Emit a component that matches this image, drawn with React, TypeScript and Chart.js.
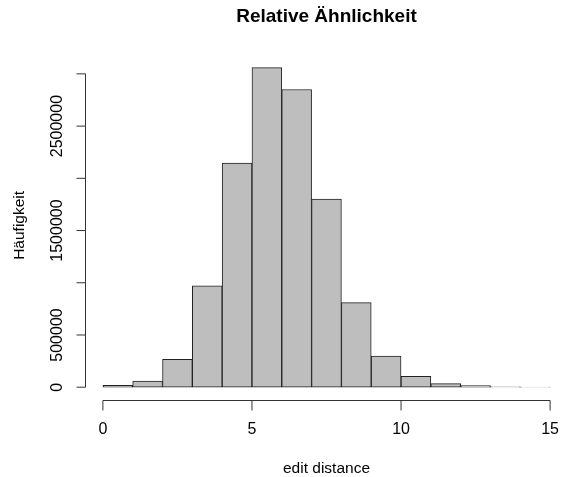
import React, { useEffect, useRef } from "react";
import { Chart, registerables } from "chart.js";

Chart.register(...registerables);

const binStarts = [0, 1, 2, 3, 4, 5, 6, 7, 8, 9, 10, 11, 12, 13, 14];
const counts = [18000, 58000, 268000, 970000, 2145000, 3060000, 2850000, 1800000, 810000, 297000, 105000, 35000, 15000, 3000, 800];
const xTicks = [0, 5, 10, 15];
const yTicks = [0, 500000, 1000000, 1500000, 2000000, 2500000, 3000000];
const titleText = "Relative Ähnlichkeit";
const xTitle = "edit distance";
const yTitle = "Häufigkeit";

const FONT = '"Liberation Sans", Arial, Helvetica, sans-serif';
const AXIS_COLOR = "#333";

const rAxesPlugin = {
  id: "rAxes",
  afterDraw(chart: any) {
    const ctx = chart.ctx;
    const xs = chart.scales.x;
    const ys = chart.scales.y;
    const area = chart.chartArea;
    ctx.save();
    ctx.strokeStyle = AXIS_COLOR;
    ctx.fillStyle = "#000";
    ctx.lineWidth = 1;

    // x axis
    const xAxisY = Math.round(area.bottom) + 0.5;
    const x0 = xs.getPixelForValue(xTicks[0]);
    const x1 = xs.getPixelForValue(xTicks[xTicks.length - 1]);
    ctx.beginPath();
    ctx.moveTo(x0, xAxisY);
    ctx.lineTo(x1, xAxisY);
    xTicks.forEach((t) => {
      const px = xs.getPixelForValue(t);
      ctx.moveTo(px, xAxisY);
      ctx.lineTo(px, xAxisY + 10);
    });
    ctx.stroke();
    ctx.font = `16px ${FONT}`;
    ctx.textAlign = "center";
    ctx.textBaseline = "alphabetic";
    xTicks.forEach((t) => {
      ctx.fillText(String(t), xs.getPixelForValue(t), 434);
    });
    ctx.font = `15.5px ${FONT}`;
    ctx.fillText(xTitle, (area.left + xs.getPixelForValue(xs.max)) / 2, 473);

    // y axis
    const yAxisX = Math.round(area.left) + 0.5;
    const yb = ys.getPixelForValue(yTicks[0]);
    const yt = ys.getPixelForValue(yTicks[yTicks.length - 1]);
    ctx.beginPath();
    ctx.moveTo(yAxisX, yb);
    ctx.lineTo(yAxisX, yt);
    yTicks.forEach((t) => {
      const py = ys.getPixelForValue(t);
      ctx.moveTo(yAxisX, py);
      ctx.lineTo(yAxisX - 9, py);
    });
    ctx.stroke();

    ctx.font = `16px ${FONT}`;
    let lastTop = Infinity;
    yTicks.forEach((t) => {
      const py = ys.getPixelForValue(t);
      const label = String(t);
      const w = ctx.measureText(label).width;
      const lo = py + w / 2;
      const hi = py - w / 2;
      if (lo < lastTop - 6) {
        ctx.save();
        ctx.translate(62, py);
        ctx.rotate(-Math.PI / 2);
        ctx.textAlign = "center";
        ctx.fillText(label, 0, 0);
        ctx.restore();
        lastTop = hi;
      }
    });

    ctx.font = `15.5px ${FONT}`;
    ctx.save();
    ctx.translate(24, (area.top + area.bottom) / 2 - 2);
    ctx.rotate(-Math.PI / 2);
    ctx.textAlign = "center";
    ctx.fillText(yTitle, 0, 0);
    ctx.restore();

    ctx.restore();
  },
};

export default function App() {
  const canvasRef = useRef<HTMLCanvasElement | null>(null);

  useEffect(() => {
    const canvas = canvasRef.current;
    if (!canvas) return;
    const yMax = Math.max(...counts);
    const xMin = binStarts[0];
    const xMax = binStarts[binStarts.length - 1] + 1;
    const xExt = (xMax - xMin) * 0.04;
    const chart = new Chart(canvas, {
      type: "bar",
      data: {
        datasets: [
          {
            data: binStarts.map((b, i) => ({ x: b + 0.5, y: counts[i] })),
            backgroundColor: "#BEBEBE",
            borderColor: "#222",
            borderWidth: 1,
            borderSkipped: false,
            barPercentage: 1,
            categoryPercentage: 1,
          },
        ],
      },
      options: {
        responsive: false,
        animation: false,
        layout: { padding: { left: 85, right: 0, top: 0, bottom: 77 } },
        plugins: {
          legend: { display: false },
          tooltip: { enabled: false },
          title: {
            display: true,
            text: titleText,
            color: "#000",
            font: { family: FONT, size: 19, weight: "bold", lineHeight: 1.2 },
            padding: { top: 5, bottom: 27 },
          },
        },
        scales: {
          x: {
            type: "linear",
            min: xMin - xExt,
            max: xMax + xExt,
            display: false,
            offset: false,
          },
          y: {
            type: "linear",
            min: -0.04 * yMax,
            max: 1.04 * yMax,
            display: false,
          },
        },
      },
      plugins: [rAxesPlugin],
    });
    return () => chart.destroy();
  }, []);

  return (
    <div
      style={{
        position: "fixed",
        left: 0,
        top: 0,
        width: 562,
        height: 477,
        overflow: "hidden",
        background: "#fff",
      }}
    >
      <canvas ref={canvasRef} width={568} height={477} style={{ display: "block" }} />
    </div>
  );
}
